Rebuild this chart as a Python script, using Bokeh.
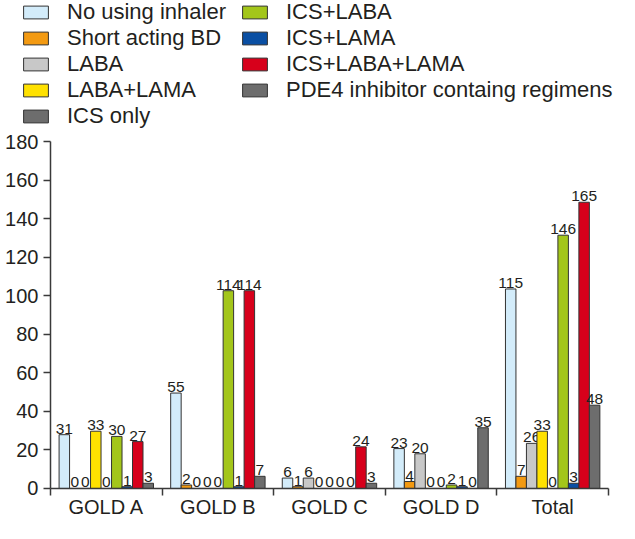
from bokeh.plotting import figure
from bokeh.models import Range1d, LinearAxis, FixedTicker, ColumnDataSource, Legend, LegendItem
from bokeh.transform import dodge
from bokeh.core.properties import value
from bokeh.embed import file_html
from bokeh.resources import INLINE

categories = ["GOLD A", "GOLD B", "GOLD C", "GOLD D", "Total"]
series_names = ["No using inhaler", "Short acting BD", "LABA", "LABA+LAMA", "ICS only",
                "ICS+LABA", "ICS+LAMA", "ICS+LABA+LAMA", "PDE4 inhibitor containg regimens"]
no_inhaler = [31, 55, 6, 23, 115]
short_bd = [0, 2, 1, 4, 7]
laba = [0, 0, 6, 20, 26]
laba_lama = [33, 0, 0, 0, 33]
ics_only = [0, 0, 0, 0, 0]
ics_laba = [30, 114, 0, 2, 146]
ics_lama = [1, 1, 0, 1, 3]
ics_laba_lama = [27, 114, 24, 0, 165]
pde4 = [3, 7, 3, 35, 48]
series_values = [no_inhaler, short_bd, laba, laba_lama, ics_only,
                 ics_laba, ics_lama, ics_laba_lama, pde4]
colors = ["#D3ECFA", "#F39A12", "#C8C8C8", "#FFE100", "#6D6D6D",
          "#A3C61A", "#0A4FA3", "#D7001B", "#6D6D6D"]
y_tick_labels = [0, 20, 40, 60, 80, 100, 120, 140, 160, 180]

FONT = "Liberation Sans"
TXT = "#231F20"
AX = "#3a3a3a"

p = figure(width=619, height=523, output_backend="svg", toolbar_location=None,
           x_range=Range1d(-0.448, 5.099), y_range=Range1d(-20.2, 281.3),
           x_axis_location=None, y_axis_location=None,
           min_border_left=0, min_border_right=0,
           min_border_top=0, min_border_bottom=0)
p.outline_line_color = None
p.xgrid.visible = False
p.ygrid.visible = False
p.extra_y_ranges = {"axis": Range1d(-18.18, 253.17)}

yaxis = LinearAxis(y_range_name="axis", ticker=FixedTicker(ticks=y_tick_labels),
                   fixed_location=0, bounds=(0, 180))
yaxis.major_tick_out = 7
yaxis.major_tick_in = 0
yaxis.minor_tick_out = 0
yaxis.minor_tick_in = 0
yaxis.axis_line_color = AX
yaxis.major_tick_line_color = AX
yaxis.axis_line_width = 1.5
yaxis.major_tick_line_width = 1.5
yaxis.major_label_text_font = FONT
yaxis.major_label_text_font_size = "20px"
yaxis.major_label_text_color = TXT
yaxis.major_label_standoff = 5
p.add_layout(yaxis, "left")

centers = [i + 0.5 for i in range(len(categories))]
xaxis = LinearAxis(fixed_location=0,
                   ticker=FixedTicker(ticks=centers, minor_ticks=list(range(len(categories) + 1))),
                   bounds=(0, len(categories)))
xaxis.major_label_overrides = {c: lab for c, lab in zip(centers, categories)}
xaxis.major_tick_out = 0
xaxis.major_tick_in = 0
xaxis.minor_tick_out = 7
xaxis.minor_tick_in = 0
xaxis.axis_line_color = AX
xaxis.minor_tick_line_color = AX
xaxis.axis_line_width = 1.5
xaxis.minor_tick_line_width = 1.5
xaxis.major_label_text_font = FONT
xaxis.major_label_text_font_size = "20px"
xaxis.major_label_text_color = TXT
xaxis.major_label_standoff = 1
p.add_layout(xaxis, "below")

n = len(series_names)
bw = 0.094
items = []
for j, (name, vals, col) in enumerate(zip(series_names, series_values, colors)):
    src = ColumnDataSource(dict(x=centers, top=vals, lab=[str(v) for v in vals]))
    off = (j - (n - 1) / 2) * bw
    r = p.vbar(x=dodge("x", off), top="top", width=bw, source=src,
               fill_color=col, line_color="#333333", line_width=1)
    p.text(x=dodge("x", off), y="top", text="lab", source=src,
           text_align="center", text_baseline="bottom", y_offset=-1,
           text_font=value(FONT), text_font_size="15.5px", text_color=TXT)
    items.append(LegendItem(label=name, renderers=[r]))

legend = Legend(items=items, orientation="vertical", nrows=5,
                location=(20, 394), padding=0, margin=0, spacing=0,
                glyph_width=31, glyph_height=16, label_height=20,
                label_width=172, label_standoff=16,
                label_text_font=FONT, label_text_font_size="22px",
                label_text_color=TXT, border_line_color=None,
                background_fill_alpha=0)
p.add_layout(legend, "center")

open("out.html", "w").write(file_html(p, INLINE))
